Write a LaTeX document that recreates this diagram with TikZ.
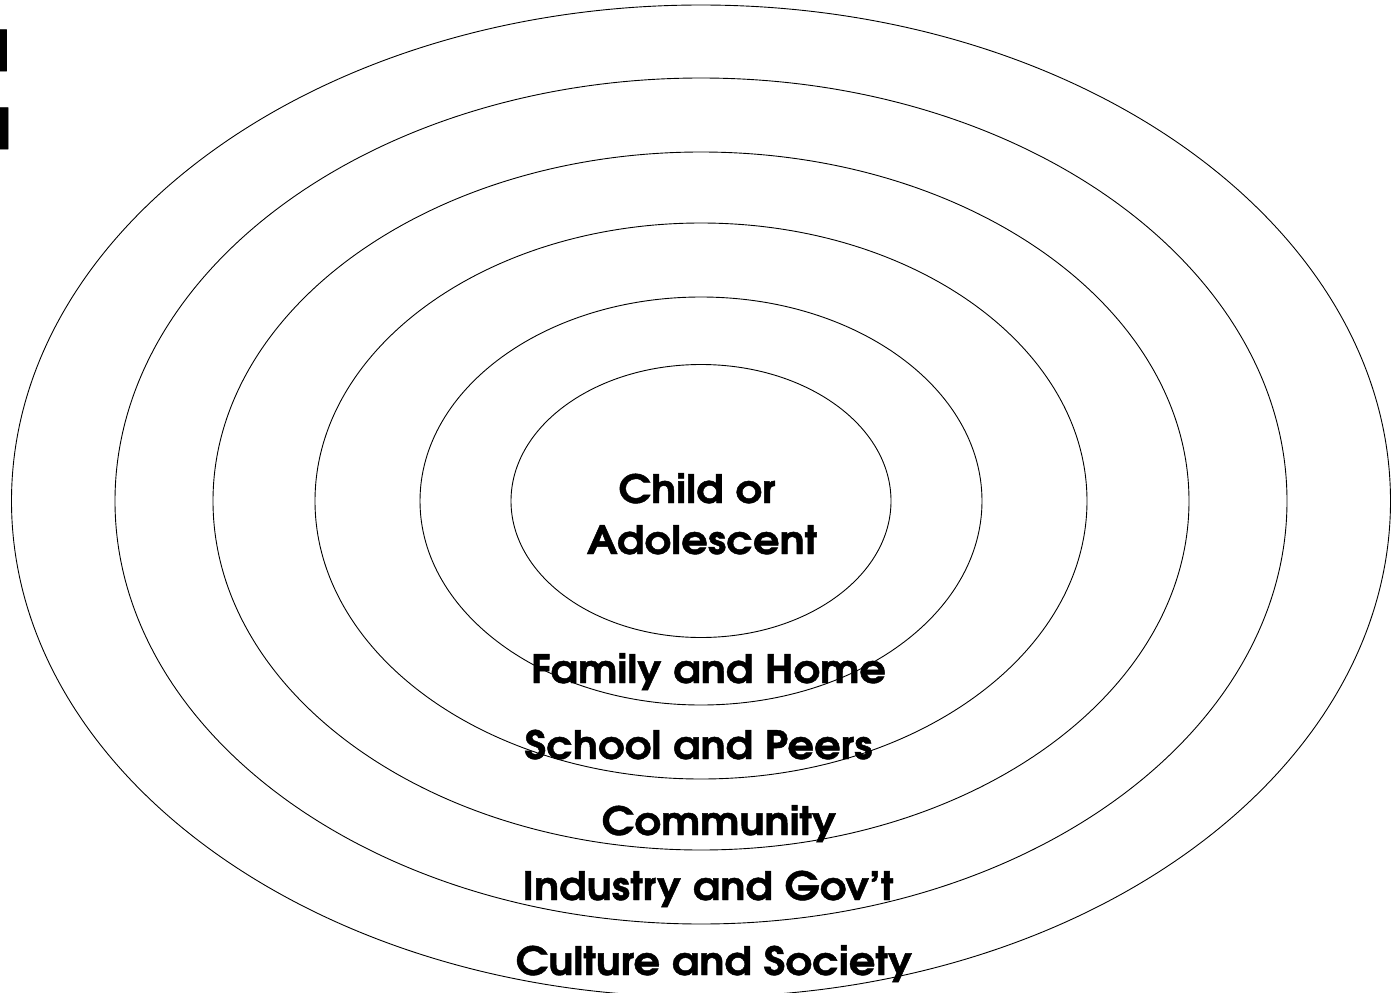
\documentclass[tikz,border=0pt]{standalone}
\usepackage{fontspec}
\setmainfont{texgyreadventor}[Extension=.otf,UprightFont=*-regular,BoldFont=*-bold,ItalicFont=*-italic,BoldItalicFont=*-bolditalic,BoldFeatures={FakeBold=1.2,FakeStretch=1.07}]
\begin{document}
\begin{tikzpicture}[x=1pt,y=-1pt,
  ring/.style={draw=black,line width=0.9pt},
  lbl/.style={font=\fontsize{39}{44}\selectfont\bfseries,anchor=base,inner sep=0pt},
  ttl/.style={font=\fontsize{56}{60}\selectfont\bfseries,anchor=base east,inner sep=0pt}]
\useasboundingbox (0,0) rectangle (1393,993);
\begin{scope}
\clip (0,0) rectangle (1393,993);
% title fragments at the left edge
\node[ttl] (t1) at (9.5,71) {d};
\node[ttl] (t2) at (11.5,149) {l};
% nested spheres of influence
\coordinate (c) at (701,501);
\draw[ring] (c) ellipse [x radius=689.5pt, y radius=496pt];
\draw[ring] (c) ellipse [x radius=586pt, y radius=423pt];
\draw[ring] (c) ellipse [x radius=488pt, y radius=349pt];
\draw[ring] (c) ellipse [x radius=386pt, y radius=278pt];
\draw[ring] (c) ellipse [x radius=281pt, y radius=204pt];
\draw[ring] (c) ellipse [x radius=190pt, y radius=136.5pt];
\end{scope}
% labels
\node[lbl] (child) at (697,503) {Child or};
\node[lbl] (adol) at (702,554) {Adolescent};
\node[lbl] (fam) at (708.5,683) {Family and Home};
\node[lbl] (sch) at (698.5,759) {School and Peers};
\node[lbl] (com) at (719,835) {Community};
\node[lbl] (ind) at (708,900) {Industry and Gov’t};
\node[lbl] (cul) at (714,975) {Culture and Society};
\end{tikzpicture}
\end{document}
